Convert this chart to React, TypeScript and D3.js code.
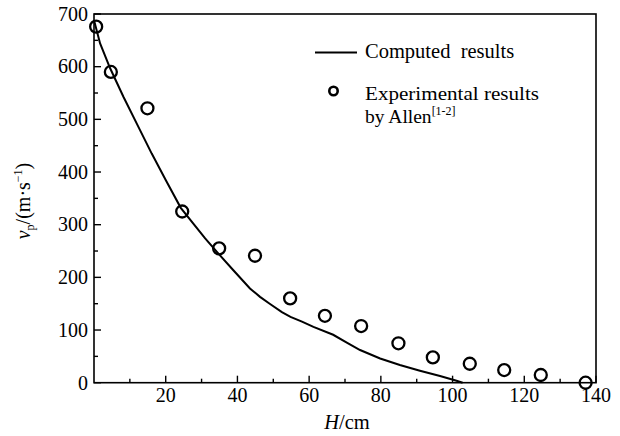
import React from "react";
import * as d3 from "d3";

const computedH = [0, 1.7, 4.5, 8.2, 12.8, 16.1, 20, 24.2, 27.7, 31, 34.7, 38.8, 43.5, 46.3, 49, 52.4, 54.8, 58, 61.2, 66.7, 70.5, 74.2, 79.8, 85.3, 90.9, 96.5, 101.1, 102.8];
const computedV = [688, 644, 597, 543, 480, 435, 385, 332, 302, 274, 245, 214, 179, 163, 150, 134, 125, 116, 106, 91, 76, 62, 46, 33.6, 22.8, 12.7, 3.8, 0];
const expH = [0.6, 4.7, 14.9, 24.6, 34.9, 44.9, 54.7, 64.4, 74.5, 84.9, 94.5, 104.8, 114.4, 124.6, 137.1];
const expV = [676, 590, 521, 325, 255, 241, 160, 127, 107.6, 74.8, 48, 36, 24, 14.6, 0];
const xTicks = [20, 40, 60, 80, 100, 120, 140];
const xMinor = [10, 30, 50, 70, 90, 110, 130];
const yTicks = [0, 100, 200, 300, 400, 500, 600, 700];
const yMinor = [50, 150, 250, 350, 450, 550, 650];

const W = 620, H = 436;
const L = 94, R = 596, T = 14, B = 382.7;
const FONT = '"Liberation Serif", "DejaVu Serif", serif';

export default function App() {
  const x = d3.scaleLinear().domain([0, 140]).range([L, R]);
  const y = d3.scaleLinear().domain([0, 700]).range([B, T]);
  const line = d3.line<number>().x((_, i) => x(computedH[i])).y((d) => y(d));
  const ts = { fontFamily: FONT };
  return (
    <svg width={W} height={H} style={{ position: "absolute", left: 0, top: 0, background: "#fff", fontFamily: FONT }}>
      <rect x={0} y={0} width={W} height={H} fill="#fff" />
      <rect x={L} y={T} width={R - L} height={B - T} fill="none" stroke="#000" strokeWidth={1.6} />
      {xTicks.map((t) => (
        <g key={"xt" + t}>
          <line x1={x(t)} x2={x(t)} y1={B} y2={B - 7} stroke="#000" strokeWidth={1.4} />
          <text x={x(t)} y={401.5} fontSize={20} textAnchor="middle" style={ts}>{t}</text>
        </g>
      ))}
      {xMinor.map((t) => (
        <line key={"xm" + t} x1={x(t)} x2={x(t)} y1={B} y2={B - 4} stroke="#000" strokeWidth={1.4} />
      ))}
      {yTicks.map((t) => (
        <g key={"yt" + t}>
          <line x1={L} x2={L + 7} y1={y(t)} y2={y(t)} stroke="#000" strokeWidth={1.4} />
          <text x={88} y={y(t) + 6.8} fontSize={20} textAnchor="end" style={ts}>{t}</text>
        </g>
      ))}
      {yMinor.map((t) => (
        <line key={"ym" + t} x1={L} x2={L + 4} y1={y(t)} y2={y(t)} stroke="#000" strokeWidth={1.4} />
      ))}
      <path d={line(computedV) || ""} fill="none" stroke="#000" strokeWidth={2} />
      {expV.map((v, i) => (
        <circle key={"c" + i} cx={x(expH[i])} cy={y(v)} r={6} fill="none" stroke="#000" strokeWidth={2.3} />
      ))}
      {/* legend */}
      <line x1={315} x2={357} y1={52.5} y2={52.5} stroke="#000" strokeWidth={2} />
      <text x={365} y={57.5} fontSize={20.5} style={ts}>Computed{"\u00a0\u00a0"}results</text>
      <circle cx={333.5} cy={91} r={4.2} fill="none" stroke="#000" strokeWidth={2.6} />
      <text x={365} y={99.5} fontSize={19.5} style={ts} textLength={174} lengthAdjust="spacingAndGlyphs">Experimental results</text>
      <text x={365} y={123} fontSize={19.5} style={ts}>
        by Allen
        <tspan fontSize={12} dy={-8}>[1-2]</tspan>
      </text>
      {/* axis titles */}
      <text x={347} y={429} fontSize={20.5} textAnchor="middle" style={ts}>
        <tspan fontStyle="italic">H</tspan>/cm
      </text>
      <text transform={`translate(30, 201) rotate(-90)`} fontSize={20} textAnchor="middle" style={ts}>
        <tspan fontStyle="italic">v</tspan>
        <tspan fontSize={12} dy={4}>p</tspan>
        <tspan dy={-4}>/(m·s</tspan>
        <tspan fontSize={12} dy={-8}>−1</tspan>
        <tspan dy={8}>)</tspan>
      </text>
    </svg>
  );
}
